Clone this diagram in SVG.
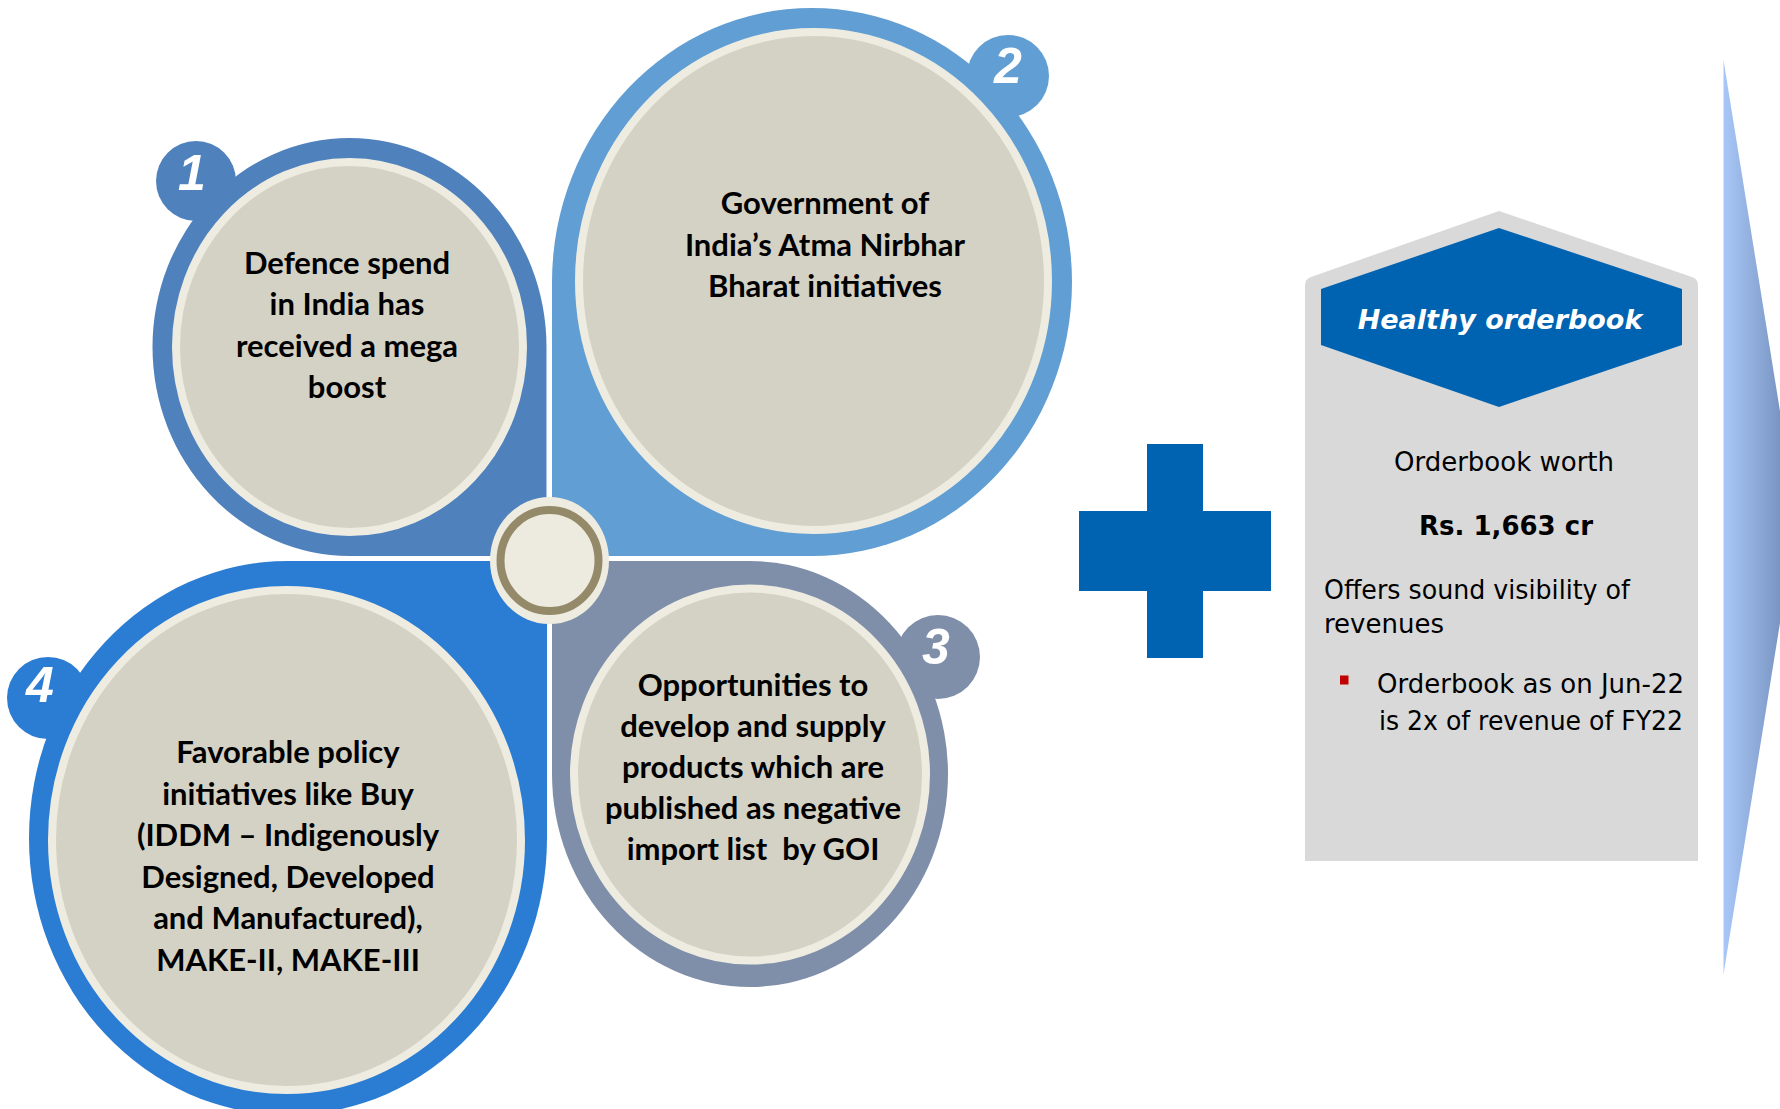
<svg xmlns="http://www.w3.org/2000/svg" width="1780" height="1109" viewBox="0 0 1780 1109">
<defs>
<style>
.ctext{font-family:Lato,"Liberation Sans",sans-serif;font-weight:700;font-size:31px;fill:#000;text-anchor:middle}
.badge{font-family:"Liberation Sans",Arial,sans-serif;font-weight:700;font-style:italic;font-size:50px;fill:#fff;text-anchor:middle}
.ring{fill:#D4D2C5;stroke:#EEECE1;stroke-width:8}
.rt{font-family:"DejaVu Sans",Verdana,sans-serif;font-size:26px;fill:#000}
</style>
<linearGradient id="arrowGrad" gradientUnits="userSpaceOnUse" x1="1723" y1="0" x2="1797" y2="0">
<stop offset="0" stop-color="#A9C8F8"/>
<stop offset="1" stop-color="#6C86B2"/>
</linearGradient>
</defs>
<rect x="0" y="0" width="1780" height="1109" fill="#ffffff"/>

<g id="petal1">
<path d="M546.5,347 A197,209 0 1 0 349.5,556 L546.5,556 Z" fill="#4F81BD"/>
<circle cx="196" cy="181" r="40" fill="#4F81BD"/>
<ellipse class="ring" cx="349.5" cy="347" rx="173.5" ry="185"/>
<text class="badge" x="192" y="190">1</text>
<text class="ctext" x="347" y="273.5">Defence spend</text>
<text class="ctext" x="347" y="315">in India has</text>
<text class="ctext" x="347" y="356.5">received a mega</text>
<text class="ctext" x="347" y="398">boost</text>
</g>

<g id="petal2">
<path d="M812,556 A260,274 0 1 0 552,282 L552,556 Z" fill="#619ED3"/>
<circle cx="1008" cy="76" r="41" fill="#619ED3"/>
<ellipse class="ring" cx="813.5" cy="281" rx="234.5" ry="249"/>
<text class="badge" x="1008" y="82.5">2</text>
<text class="ctext" x="825" y="214">Government of</text>
<text class="ctext" x="825" y="255.5">India’s Atma Nirbhar</text>
<text class="ctext" x="825" y="297">Bharat initiatives</text>
</g>

<g id="petal3">
<path d="M552,774 A198,213 0 1 0 750,561 L552,561 Z" fill="#7F8FA9"/>
<circle cx="938" cy="657" r="42" fill="#7F8FA9"/>
<ellipse class="ring" cx="750" cy="774.5" rx="176" ry="186"/>
<text class="badge" x="936" y="664">3</text>
<text class="ctext" x="753" y="696">Opportunities to</text>
<text class="ctext" x="753" y="737">develop and supply</text>
<text class="ctext" x="753" y="778">products which are</text>
<text class="ctext" x="753" y="819">published as negative</text>
<text class="ctext" x="753" y="860" xml:space="preserve">import list  by GOI</text>
</g>

<g id="petal4">
<path d="M288,561 A259,277 0 1 0 547,838 L547,561 Z" fill="#2B7CD3"/>
<circle cx="48" cy="698" r="41" fill="#2B7CD3"/>
<ellipse class="ring" cx="286.5" cy="840" rx="234.5" ry="250"/>
<text class="badge" x="40" y="701.5">4</text>
<text class="ctext" x="288" y="763">Favorable policy</text>
<text class="ctext" x="288" y="804.5">initiatives like Buy</text>
<text class="ctext" x="288" y="846">(IDDM – Indigenously</text>
<text class="ctext" x="288" y="887.5">Designed, Developed</text>
<text class="ctext" x="288" y="929">and Manufactured),</text>
<text class="ctext" x="288" y="970.5">MAKE-II, MAKE-III</text>
</g>

<g id="hub">
<ellipse cx="549.5" cy="560.5" rx="59.5" ry="63.5" fill="#EEECE1"/>
<ellipse cx="549.5" cy="560.5" rx="49" ry="50.5" fill="#EDEBE0" stroke="#948A6A" stroke-width="8"/>
</g>

<g id="plus">
<rect x="1147" y="444" width="56" height="214" fill="#0063B1"/>
<rect x="1079" y="511" width="192" height="80" fill="#0063B1"/>
</g>

<g id="orderbook">
<path d="M1305,861 L1305,285 Q1305,279 1311,277 L1499,211 L1692,277 Q1698,279 1698,285 L1698,861 Z" fill="#D9D9D9"/>
<polygon points="1499,228 1682,289 1682,345 1499,407 1321,345 1321,289" fill="#0063B1"/>
<text x="1500" y="329" font-family="DejaVu Sans, Verdana, sans-serif" font-size="27" font-weight="700" font-style="italic" fill="#ffffff" text-anchor="middle">Healthy orderbook</text>
<text class="rt" x="1504" y="471" text-anchor="middle">Orderbook worth</text>
<text class="rt" x="1506" y="535" text-anchor="middle" font-weight="700">Rs. 1,663 cr</text>
<text class="rt" x="1324" y="599" textLength="306" lengthAdjust="spacingAndGlyphs">Offers sound visibility of</text>
<text class="rt" x="1324" y="633">revenues</text>
<rect x="1340" y="675.5" width="8.5" height="9" fill="#C00000"/>
<text class="rt" x="1377" y="693">Orderbook as on Jun-22</text>
<text class="rt" x="1379" y="730" textLength="304" lengthAdjust="spacingAndGlyphs">is 2x of revenue of FY22</text>
</g>

<g id="arrow">
<polygon points="1723.5,60 1797,517 1723.5,974.5" fill="url(#arrowGrad)"/>
</g>

<g id="connectors"/>
</svg>
